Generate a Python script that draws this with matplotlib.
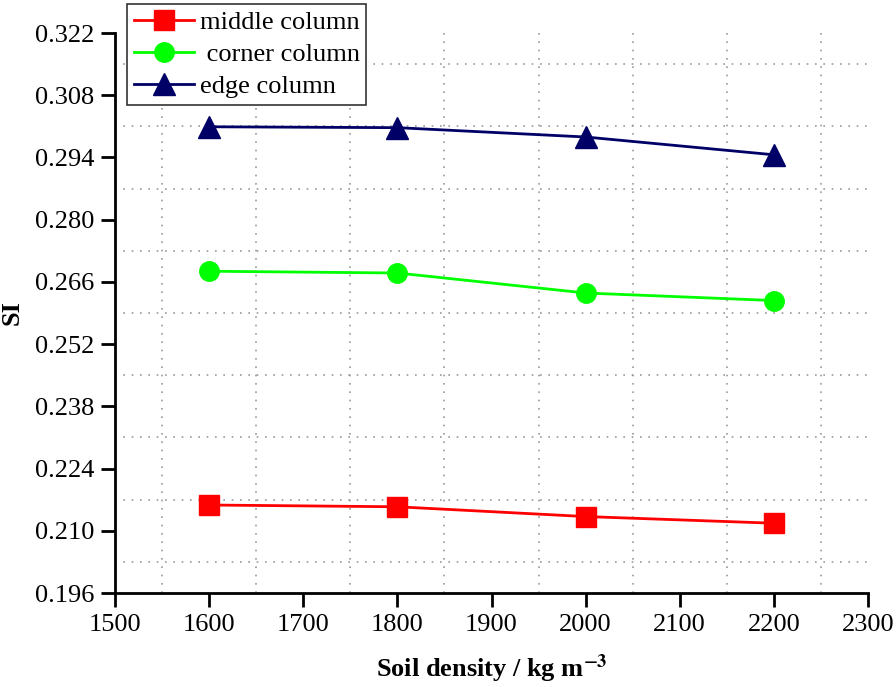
import matplotlib.pyplot as plt
from matplotlib.ticker import MultipleLocator

# data
density = [1600, 1800, 2000, 2200]
middle = [0.2158, 0.2154, 0.2132, 0.2117]
corner = [0.2684, 0.2680, 0.2635, 0.2618]
edge = [0.3009, 0.3007, 0.2986, 0.2946]
labels = ["middle column", " corner column", "edge column"]

plt.rcParams['font.family'] = ['Liberation Serif', 'DejaVu Serif']
plt.rcParams['mathtext.fontset'] = 'stix'

fig = plt.figure(figsize=(8.96, 6.87), dpi=100)
ax = fig.add_axes([115/896, 1 - 593/687, (868 - 115)/896, (593 - 33)/687])

ax.plot(density, middle, color='#ff0000', lw=2, marker='s', ms=15, label=labels[0])
ax.plot(density, corner, color='#00ff00', lw=2, marker='o', ms=14, label=labels[1])
ax.plot(density, edge, color='#000066', lw=2, marker='^', ms=16, label=labels[2])

ax.set_xlim(1500, 2300)
ax.set_ylim(0.196, 0.322)
ax.set_xticks(range(1500, 2301, 100))
ax.set_yticks([0.196 + 0.014*i for i in range(10)])
ax.set_yticklabels(["%.3f" % (0.196 + 0.014*i) for i in range(10)])
ax.xaxis.set_minor_locator(MultipleLocator(50))
ax.set_yticks([0.203 + 0.014*i for i in range(9)], minor=True)
ax.tick_params(which='minor', length=0)
ax.tick_params(which='major', direction='out', length=10, width=2, labelsize=19, pad=5)
ax.grid(which='minor', color='#999999', ls=(0, (1, 4)), lw=1.2)
ax.grid(which='major', visible=False)

for s in ['top', 'right']:
    ax.spines[s].set_visible(False)
for s in ['left', 'bottom']:
    ax.spines[s].set_linewidth(2)

ax.set_ylabel("SI", fontsize=19, fontweight='bold', labelpad=8)
ax.set_xlabel(r"Soil density / kg m$^{\mathbf{-3}}$", fontsize=19, fontweight='bold', labelpad=12)

leg = ax.legend(loc='upper left', bbox_to_anchor=(12/753, 589/560), fontsize=19,
                fancybox=False, framealpha=1, edgecolor='#333333', borderpad=0.25,
                labelspacing=0.32, handlelength=2.3, handletextpad=0.2, borderaxespad=0)
leg.get_frame().set_linewidth(1.2)

fig.savefig("out.png", dpi=100)
